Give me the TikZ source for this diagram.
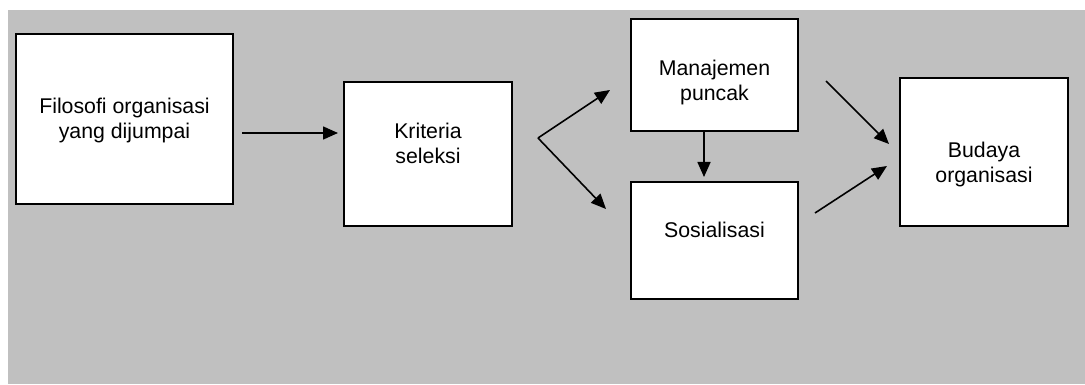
\documentclass[tikz,border=0pt]{standalone}
\usepackage{fontspec}
\setmainfont{Liberation Sans}
\usetikzlibrary{arrows.meta}
\definecolor{bggray}{RGB}{192,192,192}
\begin{document}
\begin{tikzpicture}
[x=1pt,y=-1pt,
 box/.style={draw,fill=white,line width=1.5pt,anchor=north west,inner sep=0pt,outer sep=0pt},
 txt/.style={align=center,inner sep=0pt,font=\fontsize{21.3}{25}\selectfont},
 ar/.style={-{Triangle[length=15pt,width=13pt]},line width=1.6pt}]
\useasboundingbox (0,0) rectangle (1085,385);
\fill [bggray] (8,10) rectangle (1085,384);

\node [box,minimum width=217pt,minimum height=170pt] at (16,34) (filosofi) {};
\node [box,minimum width=168pt,minimum height=144pt] at (344,82) (kriteria) {};
\node [box,minimum width=167pt,minimum height=112pt] at (631,19) (manajemen) {};
\node [box,minimum width=167pt,minimum height=117pt] at (631,182) (sosialisasi) {};
\node [box,minimum width=168pt,minimum height=148pt] at (900,78) (budaya) {};

\node [txt] at (124.5,120.5) (filosofi-t) {Filosofi organisasi\\yang dijumpai};
\node [txt] at (428,143) (kriteria-t) {Kriteria\\seleksi};
\node [txt] at (714.5,82) (manajemen-t) {Manajemen\\puncak};
\node [txt] at (714.5,230) (sosialisasi-t) {Sosialisasi};
\node [txt] at (984,164) (budaya-t) {Budaya\\organisasi};

\coordinate (a1s) at (242,133);
\coordinate (a1e) at (338,133);
\coordinate (fork) at (538,138);
\coordinate (fork-up) at (610,90);
\coordinate (fork-dn) at (606,209);
\coordinate (mid-s) at (704,131);
\coordinate (mid-e) at (704,177);
\coordinate (up-s) at (826,81);
\coordinate (up-e) at (889,144);
\coordinate (lo-s) at (815,213);
\coordinate (lo-e) at (887,166);

\draw [ar] (a1s) -- (a1e);
\draw [ar] (fork) -- (fork-up);
\draw [ar] (fork) -- (fork-dn);
\draw [ar] (mid-s) -- (mid-e);
\draw [ar] (up-s) -- (up-e);
\draw [ar] (lo-s) -- (lo-e);
\end{tikzpicture}
\end{document}
